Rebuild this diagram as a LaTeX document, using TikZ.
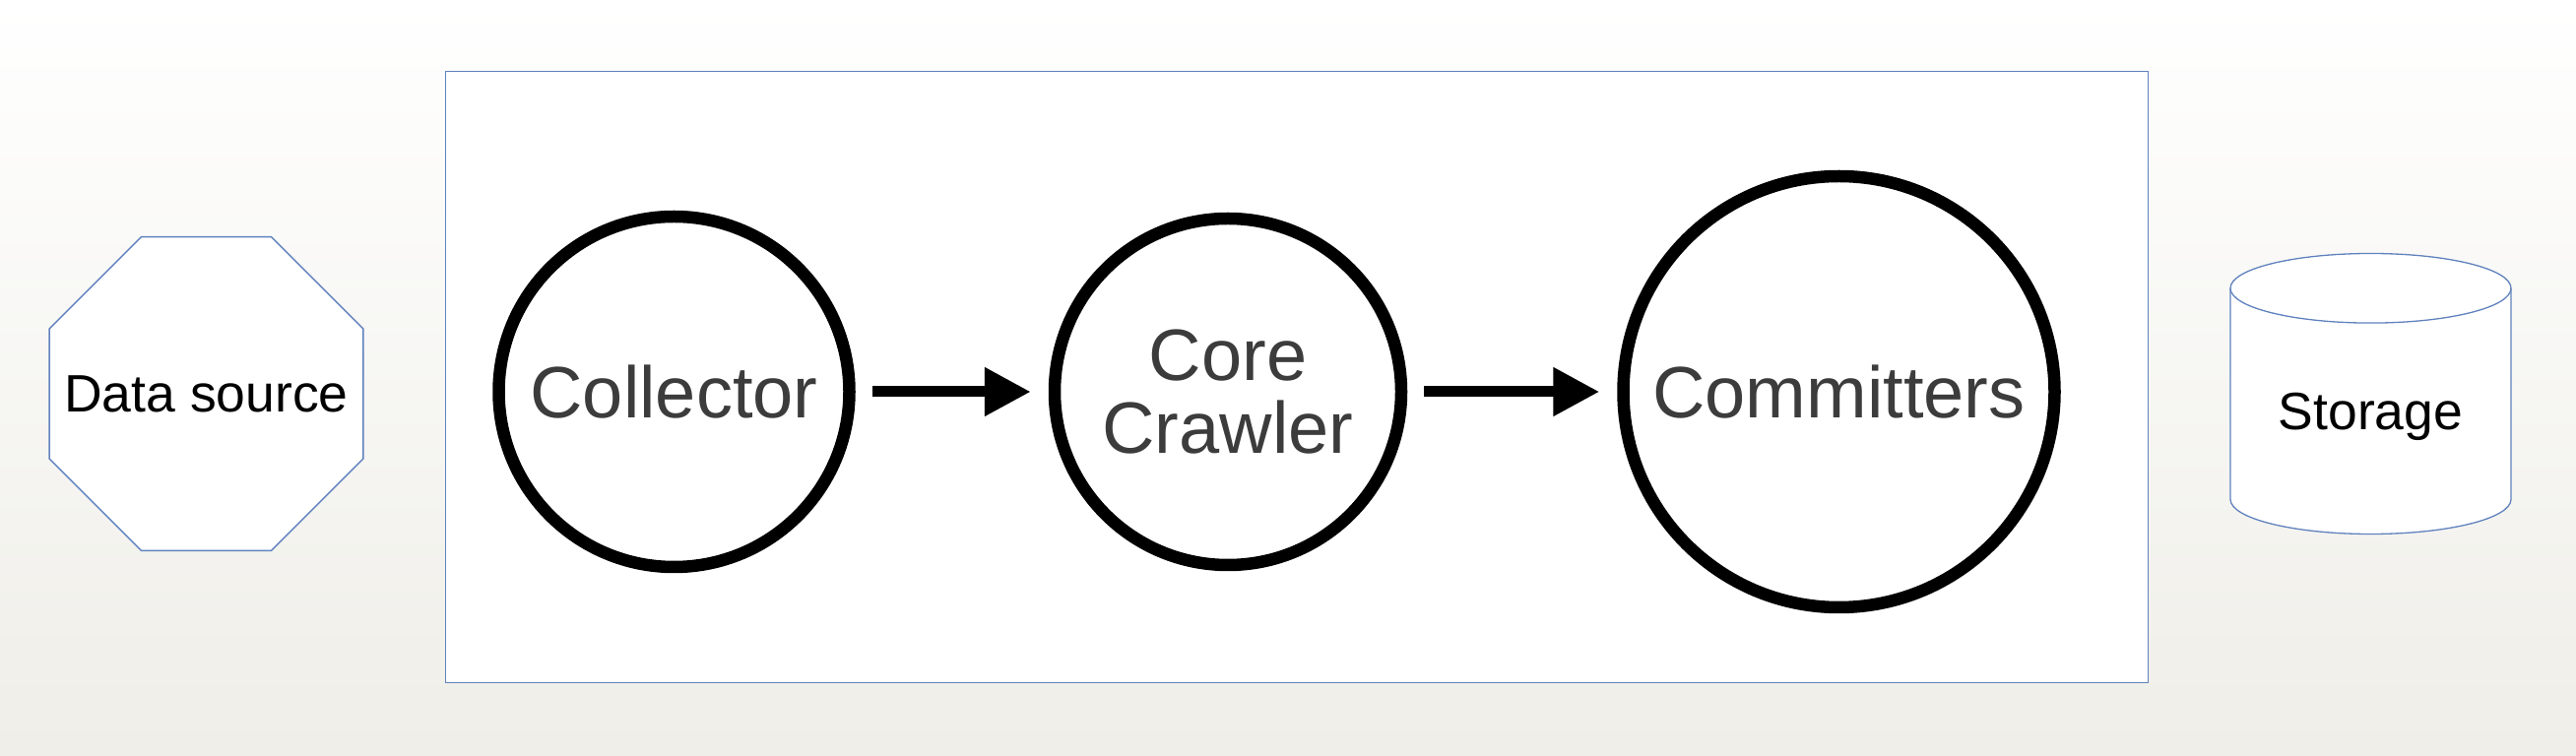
\documentclass[tikz,border=0pt]{standalone}
\usepackage{fontspec}
\setmainfont{Liberation Sans}
\usepackage{tikz}
\usetikzlibrary{
	arrows.meta,
	positioning,
	shapes.geometric,
}
\definecolor{lineblue}{RGB}{96,130,190}
\definecolor{stagegray}{RGB}{60,60,60}
\definecolor{bgbottom}{RGB}{239,238,232}

\begin{document}
\begin{tikzpicture}[
	x=1pt, y=1pt,
	>={Triangle[length=47pt,width=47pt]},
	node distance = 560pt,
	stage/.style={circle, draw=black, line width=12.5pt, fill=white, text=stagegray,
		inner sep=0pt, align=center, font=\fontsize{74}{74}\selectfont},
	bluebox/.style={draw=lineblue, line width=1.3pt, fill=white},
	boxtext/.style={text=black, font=\fontsize{53.5}{56}\selectfont},
	flow/.style={->, line width=11pt, shorten <=17pt, shorten >=18pt},
	]
	
	%% backdrop
	\useasboundingbox (0,0) rectangle (2616,768);
	\shade[top color=white, bottom color=bgbottom] (0,0) rectangle (2616,768);
	
	%% crawler frame
	\node (frame) [bluebox, rectangle, minimum width=1729pt, minimum height=621pt, inner sep=0pt] at (1316.8,385.2) {};
	
	%% stages
	\node (collector) [stage, minimum size=356pt] at (684.5,370) {Collector};
	\node (core) [stage, minimum size=352pt, right of=collector, xshift=2.5pt] {Core\\Crawler};
	\node (committers) [stage, minimum size=438pt, right of=core, xshift=60.5pt] {Committers};
	
	%% data source and storage
	\node (source) [bluebox, boxtext, regular polygon, regular polygon sides=8, minimum size=345pt,
		inner sep=0pt, left of=collector, xshift=85pt, yshift=-2pt] {\makebox[0pt]{Data source}};
	\node (cyl) [coordinate, right of=committers, xshift=-20pt, yshift=-2pt] {};
	\filldraw[bluebox, shift={(cyl)}] (-142.5,107.2) -- (-142.5,-107.2)
		arc[start angle=180, end angle=360, x radius=142.5, y radius=35.3]
		-- (142.5,107.2)
		arc[start angle=0, end angle=180, x radius=142.5, y radius=35.3] -- cycle;
	\draw[bluebox, fill=none, shift={(cyl)}] (-142.5,107.2)
		arc[start angle=180, end angle=360, x radius=142.5, y radius=35.3];
	\node (storage) [boxtext, text depth=0pt, below of=cyl, node distance=18pt] {Storage};
	
	%% flow
	\draw[flow] (collector) to (core);
	\draw[flow] (core) to (committers);
	
\end{tikzpicture}
\end{document}
